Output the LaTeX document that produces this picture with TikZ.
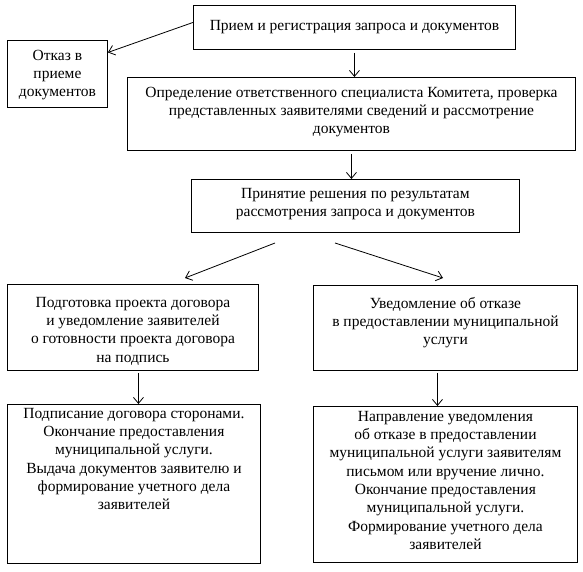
\documentclass[tikz,border=0pt]{standalone}
\usepackage{fontspec}
\setmainfont{Liberation Serif}
\usetikzlibrary{arrows.meta}
\newcommand{\bxt}[4]{\parbox[c][#2pt][t]{#1pt}{\centering\vspace*{#3pt}\strut #4\par}}
\begin{document}
\begin{tikzpicture}[x=1pt,y=-1pt,
  box/.style={draw=black, line width=0.9pt, inner sep=0pt, anchor=north west,
    font=\fontsize{15.5}{18.3}\selectfont},
  arr/.style={draw=black, line width=0.8pt, -{Straight Barb[length=6pt,width=10pt]}}]
\useasboundingbox (0,0) rectangle (583,572);
\fill[white] (0,0) rectangle (583,572);
\node[box] (b1) at (193,5) {\bxt{322}{44}{12}{Прием и регистрация запроса и документов}};
\node[box] (ot) at (7,40) {\bxt{100}{67}{7}{Отказ в\\приеме\\документов}};
\node[box] (b2) at (127,77) {\bxt{448}{73}{7}{Определение ответственного специалиста Комитета, проверка\\представленных заявителями сведений и рассмотрение\\документов}};
\node[box] (b3) at (191,179) {\bxt{328}{53}{6}{Принятие решения по результатам\\рассмотрения запроса и документов}};
\node[box] (b4) at (7,284) {\bxt{251}{86}{10}{Подготовка проекта договора\\и уведомление заявителей\\о готовности проекта договора\\на подпись}};
\node[box] (b5) at (313,285) {\bxt{264}{85}{10}{Уведомление об отказе\\в предоставлении муниципальной\\услуги}};
\node[box] (b6) at (7,404) {\bxt{253}{159}{1}{Подписание договора сторонами.\\Окончание предоставления\\муниципальной услуги.\\Выдача документов заявителю и\\формирование учетного дела\\заявителей}};
\node[box] (b7) at (313,406) {\bxt{264}{156}{2}{Направление уведомления\\об отказе в предоставлении\\муниципальной услуги заявителям\\письмом или вручение лично.\\Окончание предоставления\\муниципальной услуги.\\Формирование учетного дела\\заявителей}};
\coordinate (d1s) at (275,243);
\coordinate (d1e) at (185,278);
\coordinate (d2s) at (335,243);
\coordinate (d2e) at (443,278);
\draw[arr] ([yshift=5pt]b1.west) -- ([yshift=21.5pt]ot.east);
\draw[arr, shorten <=3pt] (b1.south) -- (b1.south |- b2.north);
\draw[arr, shorten <=3pt] (b2.south) -- (b2.south |- b3.north);
\draw[arr] (d1s) -- (d1e);
\draw[arr] (d2s) -- (d2e);
\draw[arr, shorten <=2pt] ([xshift=5.5pt]b4.south) -- ([xshift=5.5pt]b4.south |- b6.north);
\draw[arr, shorten <=2pt] ([xshift=-8pt]b5.south) -- ([xshift=-8pt]b5.south |- b7.north);
\end{tikzpicture}
\end{document}
